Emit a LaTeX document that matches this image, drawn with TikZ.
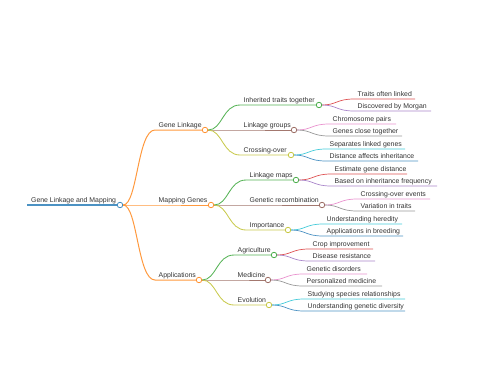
\documentclass[tikz,border=0pt]{standalone}
\usepackage{fontspec}
\setmainfont{Liberation Sans}
\usetikzlibrary{arrows.meta,positioning,calc}
\definecolor{c0}{HTML}{1F77B4}
\definecolor{c1}{HTML}{FF7F0E}
\definecolor{c2}{HTML}{2CA02C}
\definecolor{c3}{HTML}{D62728}
\definecolor{c4}{HTML}{9467BD}
\definecolor{c5}{HTML}{8C564B}
\definecolor{c6}{HTML}{E377C2}
\definecolor{c7}{HTML}{7F7F7F}
\definecolor{c8}{HTML}{BCBD22}
\definecolor{c9}{HTML}{17BECF}

\begin{document}
\begin{tikzpicture}[x=1pt,y=-1pt,
 txt/.style={anchor=base west,inner sep=0pt,text=black!80,font=\fontsize{6.9}{8}\selectfont},
 dot/.style={draw=#1!85,circle,fill=white,minimum size=5.5pt,inner sep=0pt,line width=0.8pt},
 ln/.style={draw=#1!80,line width=0.7pt}]
\useasboundingbox (0,0) rectangle (480,384);
% root
\coordinate (root-s) at (27,205);
\node[txt] (root-t) at (31,202.5) {Gene Linkage and Mapping};
\node[dot=c0] (root) at (120,205) {};
% first level
\coordinate (gl-s) at (155,130); \node[txt] (gl-t) at (158.5,127.5) {Gene Linkage}; \node[dot=c1] (gl) at (205,130) {};
\coordinate (mg-s) at (155,205); \node[txt] (mg-t) at (158.5,202.5) {Mapping Genes}; \node[dot=c1] (mg) at (211,205) {};
\coordinate (ap-s) at (155,280); \node[txt] (ap-t) at (158.5,277.5) {Applications}; \node[dot=c1] (ap) at (199,280) {};
% second level
\coordinate (it-s) at (240,105); \node[txt] (it-t) at (243.5,102.5) {Inherited traits together}; \node[dot=c2] (it) at (319,105) {};
\coordinate (lg-s) at (240,130); \node[txt] (lg-t) at (243.5,127.5) {Linkage groups}; \node[dot=c5] (lg) at (294,130) {};
\coordinate (co-s) at (240,155); \node[txt] (co-t) at (243.5,152.5) {Crossing-over}; \node[dot=c8] (co) at (291,155) {};
\coordinate (lm-s) at (246,180); \node[txt] (lm-t) at (249.5,177.5) {Linkage maps}; \node[dot=c2] (lm) at (296,180) {};
\coordinate (gr-s) at (246,205); \node[txt] (gr-t) at (249.5,202.5) {Genetic recombination}; \node[dot=c5] (gr) at (322,205) {};
\coordinate (im-s) at (246,230); \node[txt] (im-t) at (249.5,227.5) {Importance}; \node[dot=c8] (im) at (288,230) {};
\coordinate (ag-s) at (234,255); \node[txt] (ag-t) at (237.5,252.5) {Agriculture}; \node[dot=c2] (ag) at (274,255) {};
\coordinate (me-s) at (234,280); \node[txt] (me-t) at (237.5,277.5) {Medicine}; \node[dot=c5] (me) at (268,280) {};
\coordinate (ev-s) at (234,305); \node[txt] (ev-t) at (237.5,302.5) {Evolution}; \node[dot=c8] (ev) at (269,305) {};
% leaves
\coordinate (tl-s) at (354,99);  \coordinate (tl-e) at (415,99);  \node[txt] (tl-t) at (357.5,96.5) {Traits often linked};
\coordinate (dm-s) at (354,111); \coordinate (dm-e) at (431,111); \node[txt] (dm-t) at (357.5,108.5) {Discovered by Morgan};
\coordinate (cp-s) at (329,124); \coordinate (cp-e) at (396,124); \node[txt] (cp-t) at (332.5,121.5) {Chromosome pairs};
\coordinate (gc-s) at (329,136); \coordinate (gc-e) at (402,136); \node[txt] (gc-t) at (332.5,133.5) {Genes close together};
\coordinate (sl-s) at (326,149); \coordinate (sl-e) at (405,149); \node[txt] (sl-t) at (329.5,146.5) {Separates linked genes};
\coordinate (da-s) at (326,161); \coordinate (da-e) at (418,161); \node[txt] (da-t) at (329.5,158.5) {Distance affects inheritance};
\coordinate (ed-s) at (331,174); \coordinate (ed-e) at (407,174); \node[txt] (ed-t) at (334.5,171.5) {Estimate gene distance};
\coordinate (bf-s) at (331,186); \coordinate (bf-e) at (437,186); \node[txt] (bf-t) at (334.5,183.5) {Based on inheritance frequency};
\coordinate (ce-s) at (357,199); \coordinate (ce-e) at (430,199); \node[txt] (ce-t) at (360.5,196.5) {Crossing-over events};
\coordinate (vt-s) at (357,211); \coordinate (vt-e) at (415,211); \node[txt] (vt-t) at (360.5,208.5) {Variation in traits};
\coordinate (uh-s) at (323,224); \coordinate (uh-e) at (402,224); \node[txt] (uh-t) at (326.5,221.5) {Understanding heredity};
\coordinate (ab-s) at (323,236); \coordinate (ab-e) at (403,236); \node[txt] (ab-t) at (326.5,233.5) {Applications in breeding};
\coordinate (ci-s) at (309,249); \coordinate (ci-e) at (373,249); \node[txt] (ci-t) at (312.5,246.5) {Crop improvement};
\coordinate (dr-s) at (309,261); \coordinate (dr-e) at (375,261); \node[txt] (dr-t) at (312.5,258.5) {Disease resistance};
\coordinate (gd-s) at (303,274); \coordinate (gd-e) at (367,274); \node[txt] (gd-t) at (306.5,271.5) {Genetic disorders};
\coordinate (pm-s) at (303,286); \coordinate (pm-e) at (382,286); \node[txt] (pm-t) at (306.5,283.5) {Personalized medicine};
\coordinate (ss-s) at (304,299); \coordinate (ss-e) at (405,299); \node[txt] (ss-t) at (307.5,296.5) {Studying species relationships};
\coordinate (ug-s) at (304,311); \coordinate (ug-e) at (405,311); \node[txt] (ug-t) at (307.5,308.5) {Understanding genetic diversity};
% links
\draw[ln=c0,line width=1.1pt] (root-s) -- (root);
\draw[ln=c1,line width=1pt] (root) .. controls +(17.5,0) and +(-17.5,0) .. (gl-s) -- (gl);
\draw[ln=c1,line width=1pt] (root) .. controls +(17.5,0) and +(-17.5,0) .. (mg-s) -- (mg);
\draw[ln=c1,line width=1pt] (root) .. controls +(17.5,0) and +(-17.5,0) .. (ap-s) -- (ap);
\draw[ln=c2,line width=0.85pt] (gl) .. controls +(17.5,0) and +(-17.5,0) .. (it-s) -- (it);
\draw[ln=c5,line width=0.85pt] (gl) .. controls +(17.5,0) and +(-17.5,0) .. (lg-s) -- (lg);
\draw[ln=c8,line width=0.85pt] (gl) .. controls +(17.5,0) and +(-17.5,0) .. (co-s) -- (co);
\draw[ln=c2,line width=0.85pt] (mg) .. controls +(17.5,0) and +(-17.5,0) .. (lm-s) -- (lm);
\draw[ln=c5,line width=0.85pt] (mg) .. controls +(17.5,0) and +(-17.5,0) .. (gr-s) -- (gr);
\draw[ln=c8,line width=0.85pt] (mg) .. controls +(17.5,0) and +(-17.5,0) .. (im-s) -- (im);
\draw[ln=c2,line width=0.85pt] (ap) .. controls +(17.5,0) and +(-17.5,0) .. (ag-s) -- (ag);
\draw[ln=c5,line width=0.85pt] (ap) .. controls +(17.5,0) and +(-17.5,0) .. (me-s) -- (me);
\draw[ln=c8,line width=0.85pt] (ap) .. controls +(17.5,0) and +(-17.5,0) .. (ev-s) -- (ev);
\draw[ln=c3] (it) .. controls +(17.5,0) and +(-17.5,0) .. (tl-s) -- (tl-e);
\draw[ln=c4] (it) .. controls +(17.5,0) and +(-17.5,0) .. (dm-s) -- (dm-e);
\draw[ln=c6] (lg) .. controls +(17.5,0) and +(-17.5,0) .. (cp-s) -- (cp-e);
\draw[ln=c7] (lg) .. controls +(17.5,0) and +(-17.5,0) .. (gc-s) -- (gc-e);
\draw[ln=c9] (co) .. controls +(17.5,0) and +(-17.5,0) .. (sl-s) -- (sl-e);
\draw[ln=c0] (co) .. controls +(17.5,0) and +(-17.5,0) .. (da-s) -- (da-e);
\draw[ln=c3] (lm) .. controls +(17.5,0) and +(-17.5,0) .. (ed-s) -- (ed-e);
\draw[ln=c4] (lm) .. controls +(17.5,0) and +(-17.5,0) .. (bf-s) -- (bf-e);
\draw[ln=c6] (gr) .. controls +(17.5,0) and +(-17.5,0) .. (ce-s) -- (ce-e);
\draw[ln=c7] (gr) .. controls +(17.5,0) and +(-17.5,0) .. (vt-s) -- (vt-e);
\draw[ln=c9] (im) .. controls +(17.5,0) and +(-17.5,0) .. (uh-s) -- (uh-e);
\draw[ln=c0] (im) .. controls +(17.5,0) and +(-17.5,0) .. (ab-s) -- (ab-e);
\draw[ln=c3] (ag) .. controls +(17.5,0) and +(-17.5,0) .. (ci-s) -- (ci-e);
\draw[ln=c4] (ag) .. controls +(17.5,0) and +(-17.5,0) .. (dr-s) -- (dr-e);
\draw[ln=c6] (me) .. controls +(17.5,0) and +(-17.5,0) .. (gd-s) -- (gd-e);
\draw[ln=c7] (me) .. controls +(17.5,0) and +(-17.5,0) .. (pm-s) -- (pm-e);
\draw[ln=c9] (ev) .. controls +(17.5,0) and +(-17.5,0) .. (ss-s) -- (ss-e);
\draw[ln=c0] (ev) .. controls +(17.5,0) and +(-17.5,0) .. (ug-s) -- (ug-e);
\end{tikzpicture}
\end{document}
